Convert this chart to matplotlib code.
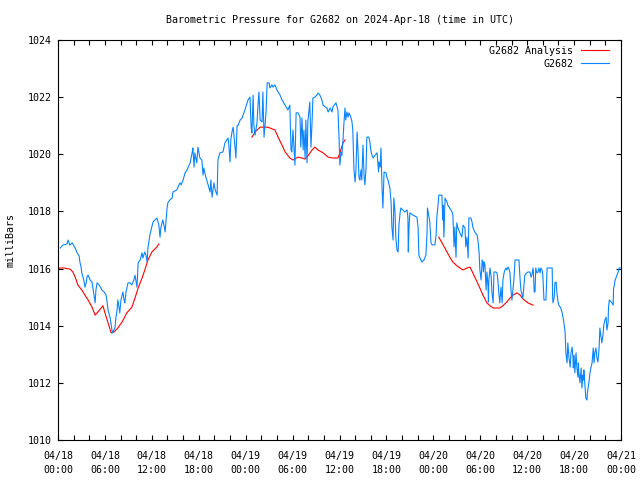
import numpy as np
import pandas as pd
import matplotlib
matplotlib.use("Agg")
import matplotlib.pyplot as plt
import matplotlib.dates as mdates

# station obs, hours after 2024-04-18 00:00 UTC
obs_hours = [0.3, 0.6, 1.15, 1.3, 1.5, 1.8, 2.2, 2.4, 2.7, 2.8, 2.95, 3.05, 3.3, 3.45, 3.6, 3.7, 3.85,
             4.1, 4.35, 4.5, 4.75, 4.85, 5.0, 5.25, 5.5, 5.6, 5.9, 6.15, 6.25, 6.4, 6.65, 6.8, 6.9,
             7.0, 7.15, 7.3, 7.4, 7.55, 7.65, 7.8, 7.9, 8.05, 8.3, 8.45, 8.55, 8.7, 8.95, 9.2, 9.45,
             9.7, 9.85, 10.0, 10.1, 10.25, 10.5, 10.75, 10.85, 11.1, 11.25, 11.4, 11.5, 11.75, 11.9,
             12.15, 12.4, 12.65, 12.9, 13.05, 13.15, 13.4, 13.55, 13.7, 13.95, 14.05, 14.3, 14.6,
             14.7, 14.95, 15.2, 15.35, 15.6, 15.75, 16.0, 16.25, 16.5, 16.6, 16.9, 17.15, 17.25,
             17.4, 17.5, 17.75, 17.9, 18.15, 18.4, 18.55, 18.65, 18.9, 19.2, 19.45, 19.55, 19.7,
             19.95, 20.1, 20.35, 20.45, 20.7, 21.1, 21.35, 21.75, 21.85, 22.0, 22.1, 22.25, 22.4,
             22.65, 22.75, 22.9, 23.0, 23.3, 23.55, 23.9, 24.3, 24.55, 24.7, 24.8, 24.95, 25.05,
             25.2, 25.45, 25.6, 25.7, 25.85, 26.1, 26.2, 26.35, 26.6, 26.75, 27.0, 27.1, 27.35,
             27.5, 27.75, 28.0, 28.4, 28.65, 29.05, 29.4, 29.65, 29.8, 29.9, 30.05, 30.3, 30.45,
             30.7, 30.95, 31.05, 31.2, 31.35, 31.45, 31.6, 31.7, 31.85, 31.95, 32.2, 32.35, 32.5,
             32.6, 32.85, 33.1, 33.25, 33.5, 33.75, 33.9, 34.15, 34.4, 34.55, 34.8, 35.05, 35.15,
             35.55, 35.8, 35.95, 36.05, 36.2, 36.3, 36.45, 36.55, 36.7, 36.8, 36.95, 37.1, 37.2,
             37.45, 37.6, 37.7, 37.85, 38.0, 38.1, 38.25, 38.35, 38.5, 38.6, 38.75, 38.85, 39.0,
             39.15, 39.25, 39.4, 39.5, 39.75, 39.9, 40.0, 40.15, 40.3, 40.55, 40.8, 40.9, 41.0,
             41.05, 41.2, 41.3, 41.45, 41.55, 41.7, 41.95, 42.05, 42.2, 42.45, 42.6, 42.7, 42.85,
             42.95, 43.1, 43.2, 43.35, 43.5, 43.6, 43.75, 43.85, 44.1, 44.35, 44.65, 44.75, 44.8,
             44.9, 45.0, 45.4, 45.9, 46.05, 46.15, 46.4, 46.55, 46.8, 47.05, 47.2, 47.25, 47.3,
             47.55, 47.7, 47.85, 48.2, 48.35, 48.45, 48.6, 48.7, 49.1, 49.2, 49.25, 49.35, 49.5,
             49.75, 49.85, 50.1, 50.4, 50.5, 50.65, 50.75, 50.9, 51.0, 51.15, 51.4, 51.65, 51.8,
             52.05, 52.15, 52.3, 52.45, 52.55, 52.8, 52.95, 53.05, 53.3, 53.6, 53.7, 53.85, 53.95,
             54.1, 54.25, 54.35, 54.4, 54.5, 54.6, 54.75, 54.85, 55.0, 55.05, 55.1, 55.25, 55.4,
             55.5, 55.65, 55.75, 56.0, 56.15, 56.25, 56.4, 56.5, 56.65, 56.8, 56.9, 57.05, 57.15,
             57.3, 57.4, 57.55, 57.65, 57.8, 57.95, 58.05, 58.2, 58.3, 58.45, 58.95, 59.1, 59.2,
             59.45, 59.6, 59.7, 59.95, 60.1, 60.35, 60.5, 60.6, 60.75, 60.8, 60.9, 61.0, 61.1,
             61.25, 61.4, 61.5, 61.65, 61.75, 61.9, 62.0, 62.1, 62.15, 62.4, 62.55, 63.2, 63.25,
             63.3, 63.45, 63.55, 63.7, 63.8, 63.95, 64.05, 64.3, 64.45, 64.6, 64.7, 64.85, 64.95,
             65.1, 65.15, 65.2, 65.35, 65.5, 65.6, 65.75, 65.85, 65.9, 66.0, 66.1, 66.25, 66.35,
             66.5, 66.55, 66.6, 66.75, 66.9, 67.0, 67.15, 67.2, 67.25, 67.4, 67.5, 67.65, 67.7,
             67.75, 67.9, 68.0, 68.15, 68.3, 68.4, 68.45, 68.55, 68.65, 68.8, 68.9, 69.05, 69.2,
             69.3, 69.45, 69.55, 69.7, 69.8, 69.95, 70.1, 70.2, 70.35, 70.4, 70.5, 70.75, 70.85,
             71.0, 71.05, 71.1, 71.25, 71.35, 71.5, 71.6, 71.75, 71.9]
obs_mb = [1016.72, 1016.82, 1016.86, 1017.0, 1016.82, 1016.9, 1016.72, 1016.58, 1016.44, 1016.23,
          1016.05, 1015.85, 1015.6, 1015.35, 1015.5, 1015.7, 1015.77, 1015.6, 1015.53, 1015.25,
          1014.8, 1015.25, 1015.5, 1015.43, 1015.32, 1015.25, 1015.18, 1015.07, 1014.9, 1014.55,
          1014.3, 1014.02, 1013.85, 1013.75, 1013.85, 1013.95, 1014.27, 1014.55, 1014.9, 1014.65,
          1014.45, 1014.9, 1015.18, 1014.9, 1014.8, 1015.18, 1015.5, 1015.5, 1015.43, 1015.6,
          1015.77, 1015.53, 1015.35, 1016.2, 1016.3, 1016.55, 1016.37, 1016.58, 1016.47, 1016.23,
          1016.72, 1017.17, 1017.35, 1017.63, 1017.7, 1017.77, 1017.52, 1017.1, 1017.42, 1017.7,
          1017.52, 1017.28, 1018.12, 1018.3, 1018.4, 1018.47, 1018.68, 1018.72, 1018.75, 1018.85,
          1019.0, 1018.93, 1019.1, 1019.35, 1019.45, 1019.52, 1019.7, 1020.05, 1020.22, 1019.55,
          1020.05, 1019.7, 1020.25, 1019.87, 1019.8, 1019.27, 1019.52, 1019.2, 1018.93, 1018.68,
          1019.1, 1018.5, 1019.0, 1018.75, 1018.57, 1019.8, 1020.05, 1020.08, 1020.4, 1020.57,
          1020.32, 1019.73, 1020.5, 1020.78, 1020.95, 1020.22, 1019.87, 1021.0, 1021.0, 1021.2,
          1021.27, 1021.55, 1021.9, 1022.0, 1020.95, 1020.75, 1022.07, 1021.02, 1020.67, 1021.1,
          1021.8, 1022.18, 1021.2, 1021.13, 1022.18, 1020.6, 1021.45, 1022.5, 1022.5, 1022.32,
          1022.43, 1022.35, 1022.43, 1022.25, 1022.07, 1021.9, 1021.72, 1021.55, 1021.72, 1020.15,
          1020.08, 1020.85, 1019.62, 1021.45, 1021.45, 1021.3, 1020.25, 1021.27, 1020.15, 1020.85,
          1019.87, 1021.2, 1019.7, 1021.13, 1021.83, 1020.25, 1021.2, 1021.97, 1022.0, 1022.07,
          1022.14, 1022.07, 1021.9, 1021.72, 1021.66, 1021.62, 1021.48, 1021.62, 1021.48, 1021.66,
          1021.8, 1021.55, 1020.5, 1019.62, 1020.08, 1019.97, 1020.5, 1021.02, 1021.62, 1021.2,
          1021.48, 1021.3, 1021.45, 1021.3, 1021.13, 1020.85, 1019.45, 1019.03, 1019.45, 1020.78,
          1020.22, 1019.17, 1019.1, 1019.45, 1019.1, 1020.32, 1019.2, 1018.93, 1019.55, 1020.6,
          1020.6, 1020.4, 1020.15, 1019.97, 1019.87, 1019.97, 1020.05, 1019.73, 1019.38, 1019.73,
          1019.55, 1020.22, 1018.75, 1018.12, 1019.38, 1019.35, 1019.2, 1019.1, 1018.82, 1018.3,
          1017.45, 1017.0, 1018.47, 1017.95, 1017.1, 1016.65, 1016.58, 1017.52, 1017.95, 1018.12,
          1018.05, 1017.98, 1018.05, 1017.77, 1016.58, 1017.52, 1017.95, 1017.87, 1017.8, 1017.45,
          1016.47, 1016.3, 1016.23, 1016.3, 1016.47, 1017.28, 1018.12, 1018.05, 1017.63, 1016.9,
          1016.83, 1016.83, 1017.17, 1017.8, 1018.22, 1018.57, 1018.57, 1017.7, 1018.22, 1017.1,
          1018.47, 1018.33, 1018.22, 1018.12, 1017.98, 1017.87, 1016.76, 1017.45, 1016.4, 1017.6,
          1017.42, 1017.25, 1017.1, 1017.52, 1017.42, 1016.76, 1017.1, 1016.37, 1017.77, 1017.77,
          1017.63, 1017.45, 1017.28, 1017.17, 1017.0, 1016.58, 1015.95, 1015.6, 1016.3, 1016.23,
          1015.88, 1016.23, 1016.13, 1015.25, 1015.88, 1015.35, 1014.83, 1015.6, 1016.02, 1015.7,
          1015.15, 1014.8, 1015.88, 1015.88, 1015.85, 1015.6, 1015.07, 1014.8, 1015.35, 1014.8,
          1015.6, 1015.85, 1015.95, 1016.02, 1015.95, 1016.05, 1016.02, 1015.85, 1015.18, 1014.9,
          1015.32, 1015.6, 1016.3, 1016.3, 1015.6, 1015.25, 1014.97, 1015.43, 1015.77, 1015.85,
          1015.88, 1015.88, 1015.7, 1015.77, 1016.02, 1015.85, 1015.18, 1015.18, 1016.02, 1015.85,
          1015.88, 1016.02, 1015.85, 1016.02, 1015.95, 1015.77, 1015.18, 1014.9, 1014.9, 1016.02,
          1016.02, 1015.07, 1014.8, 1014.97, 1015.5, 1015.53, 1015.15, 1014.83, 1014.72, 1014.62,
          1014.48, 1014.27, 1014.1, 1013.78, 1013.05, 1012.7, 1013.05, 1013.4, 1012.87, 1012.55,
          1013.05, 1013.25, 1012.9, 1012.52, 1012.97, 1012.35, 1013.05, 1012.55, 1012.2, 1012.7,
          1012.38, 1012.0, 1012.52, 1011.82, 1012.28, 1012.1, 1012.45, 1011.85, 1011.47, 1011.4,
          1011.65, 1011.75, 1012.03, 1012.28, 1012.52, 1012.7, 1013.05, 1013.22, 1012.7, 1013.05,
          1013.22, 1012.9, 1012.73, 1013.22, 1013.92, 1013.6, 1013.4, 1013.68, 1014.02, 1014.2,
          1014.3, 1013.85, 1014.1, 1014.62, 1014.9, 1014.83, 1014.8, 1014.72, 1015.32, 1015.35,
          1015.6, 1015.67, 1015.77, 1015.85, 1016.02, 1016.02]

# analysis runs (three 12h chunks)
ana1_hours = [0.0, 0.75, 1.55, 1.9, 2.2, 2.55, 3.05, 3.45, 3.85, 4.35, 4.75, 5.1, 5.75, 6.0, 6.4,
              6.8, 7.15, 7.65, 8.2, 8.8, 9.45, 9.85, 10.25, 10.75, 11.1, 11.5, 12.0, 12.65, 12.9]
ana1_mb = [1016.02, 1016.02, 1015.98, 1015.88, 1015.7, 1015.42, 1015.25, 1015.07, 1014.9, 1014.65,
           1014.37, 1014.48, 1014.7, 1014.45, 1014.1, 1013.75, 1013.78, 1013.92, 1014.13, 1014.45,
           1014.65, 1014.97, 1015.32, 1015.67, 1015.95, 1016.3, 1016.58, 1016.76, 1016.86]
ana2_hours = [24.8, 25.2, 25.85, 26.75, 27.1, 27.75, 28.15, 28.65, 29.05, 29.65, 30.05, 30.7, 31.2,
              31.6, 31.95, 32.5, 32.85, 33.25, 33.9, 34.55, 35.15, 35.8, 36.05, 36.45, 36.7]
ana2_mb = [1020.6, 1020.78, 1020.95, 1020.95, 1020.92, 1020.85, 1020.6, 1020.32, 1020.08, 1019.87,
           1019.8, 1019.9, 1019.87, 1019.83, 1019.94, 1020.15, 1020.25, 1020.15, 1020.05, 1019.9,
           1019.87, 1019.87, 1020.05, 1020.4, 1020.5]
ana3_hours = [48.7, 49.25, 49.75, 50.1, 50.5, 51.0, 51.4, 51.8, 52.3, 52.7, 53.05, 53.6, 53.95,
              54.35, 54.85, 55.25, 55.65, 56.5, 56.9, 57.4, 57.8, 58.2, 58.7, 59.1, 59.45, 60.1, 60.75]
ana3_mb = [1017.1, 1016.83, 1016.58, 1016.4, 1016.23, 1016.1, 1016.02, 1015.95, 1016.02, 1016.05,
           1015.85, 1015.53, 1015.32, 1015.07, 1014.8, 1014.7, 1014.62, 1014.62, 1014.7, 1014.83,
           1014.97, 1015.07, 1015.15, 1015.07, 1014.94, 1014.8, 1014.72]

start = pd.Timestamp("2024-04-18 00:00")

def to_time(hours):
    return start + pd.to_timedelta(np.array(hours), unit="h")

plt.rcParams['font.family'] = ['DejaVu Sans Mono']
plt.rcParams['font.size'] = 7.2

fig = plt.figure(figsize=(6.4, 4.8), dpi=100)
ax = fig.add_axes([58 / 640, 40 / 480, 563 / 640, 400 / 480])

red = '#ff0000'
blue = '#0a84ff'
ax.plot(to_time(ana1_hours), ana1_mb, color=red, lw=0.8, label='G2682 Analysis')
ax.plot(to_time(ana2_hours), ana2_mb, color=red, lw=0.8)
ax.plot(to_time(ana3_hours), ana3_mb, color=red, lw=0.8)
ax.plot(to_time(obs_hours), obs_mb, color=blue, lw=0.8, label='G2682')

ax.set_xlim(start, start + pd.Timedelta(hours=72))
ax.set_ylim(1010, 1024)
ax.set_yticks(np.arange(1010, 1025, 2))

ax.xaxis.set_major_locator(mdates.HourLocator(byhour=range(0, 24, 6)))
ax.xaxis.set_minor_locator(mdates.HourLocator(byhour=range(0, 24, 2)))
ax.xaxis.set_major_formatter(mdates.DateFormatter('%m/%d\n%H:%M'))

ax.tick_params(which='both', direction='in', top=True, right=True, length=3.5, width=0.8)
ax.tick_params(axis='y', pad=4.5)
ax.tick_params(axis='x', pad=8)
for lab in ax.get_xticklabels():
    lab.set_linespacing(1.45)
for s in ax.spines.values():
    s.set_linewidth(0.8)

ax.set_ylabel('milliBars', labelpad=9)
ax.set_title('Barometric Pressure for G2682 on 2024-Apr-18 (time in UTC)', fontsize=7.2, pad=12.5)

ax.legend(loc='upper right', bbox_to_anchor=(0.986, 0.995), frameon=False, markerfirst=False,
          handlelength=2.8, handletextpad=0.8, labelspacing=0.3, borderaxespad=0.0)

fig.savefig('out.png', dpi=100)
